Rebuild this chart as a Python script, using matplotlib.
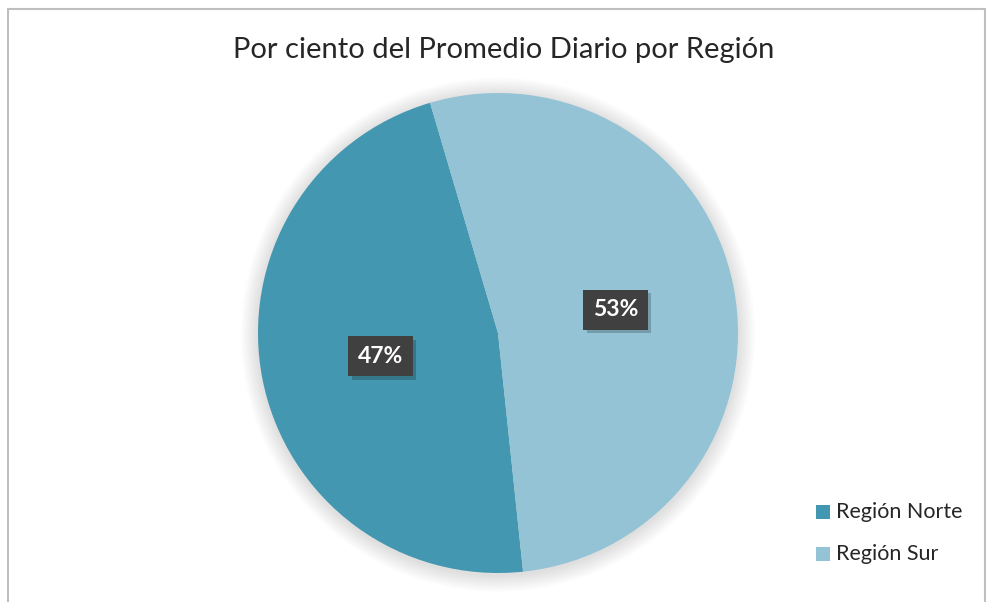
import matplotlib
matplotlib.use("Agg")
import matplotlib.pyplot as plt
from matplotlib.patches import Circle, Rectangle
import matplotlib.patheffects as pe
import numpy as np

categories = ["Región Norte", "Región Sur"]
values = [47.1, 52.9]
labels_pct = ["47%", "53%"]
colors = ["#4397B0", "#93C3D5"]

W, H = 987, 602
fig = plt.figure(figsize=(W / 100, H / 100), dpi=100)
fig.patch.set_facecolor("white")

# border
fig.add_artist(Rectangle((8 / W, -0.01), (985 - 8) / W, 1.01 - 9 / H,
                         transform=fig.transFigure, fill=False,
                         edgecolor="#BFBFBF", linewidth=1.5))

cx, cy, r = 498, 333, 240
ax = fig.add_axes([(cx - r) / W, (H - cy - r) / H, 2 * r / W, 2 * r / H])
ax.axis("off")

# soft shadow
n = 16
for i in range(n):
    rr = 1.0 + 0.0045 * (n - i)
    ax.add_patch(Circle((0.0, -0.008), rr, facecolor="black", edgecolor="none",
                        alpha=0.009, zorder=0, clip_on=False))

wedges, texts = ax.pie(values, colors=colors, startangle=-84, counterclock=False,
                       radius=1.0, wedgeprops=dict(linewidth=0))
for w in wedges:
    w.set_zorder(2)
    w.set_clip_on(False)
ax.set_xlim(-1, 1)
ax.set_ylim(-1, 1)
ax.set_aspect("equal")

for w, lab in zip(wedges, labels_pct):
    ang = np.deg2rad((w.theta1 + w.theta2) / 2)
    x, y = 0.5 * np.cos(ang), 0.5 * np.sin(ang)
    t = ax.text(x, y, lab, ha="center", va="center", color="white",
                fontsize=16.5, fontweight="bold", family="Lato", zorder=5,
                bbox=dict(boxstyle="square,pad=0.42", facecolor="#404040",
                          edgecolor="none"))
    t.get_bbox_patch().set_path_effects(
        [pe.SimplePatchShadow(offset=(2.5, -2.5), shadow_rgbFace="black", alpha=0.2),
         pe.Normal()])

fig.text(504 / W, 1 - 50 / H, "Por ciento del Promedio Diario por Región",
         ha="center", va="center", fontsize=21, family="Lato", color="#262626")

# legend
for i, (cat, col) in enumerate(zip(categories, colors)):
    ycen = 512 + 42 * i
    fig.add_artist(Rectangle((816 / W, 1 - (ycen + 7) / H), 14 / W, 14 / H,
                             transform=fig.transFigure, facecolor=col, edgecolor="none"))
    fig.text(836 / W, 1 - ycen / H, cat, ha="left", va="center", fontsize=15.5,
             family="Lato", color="#262626")

fig.savefig("out.png", dpi=100)
